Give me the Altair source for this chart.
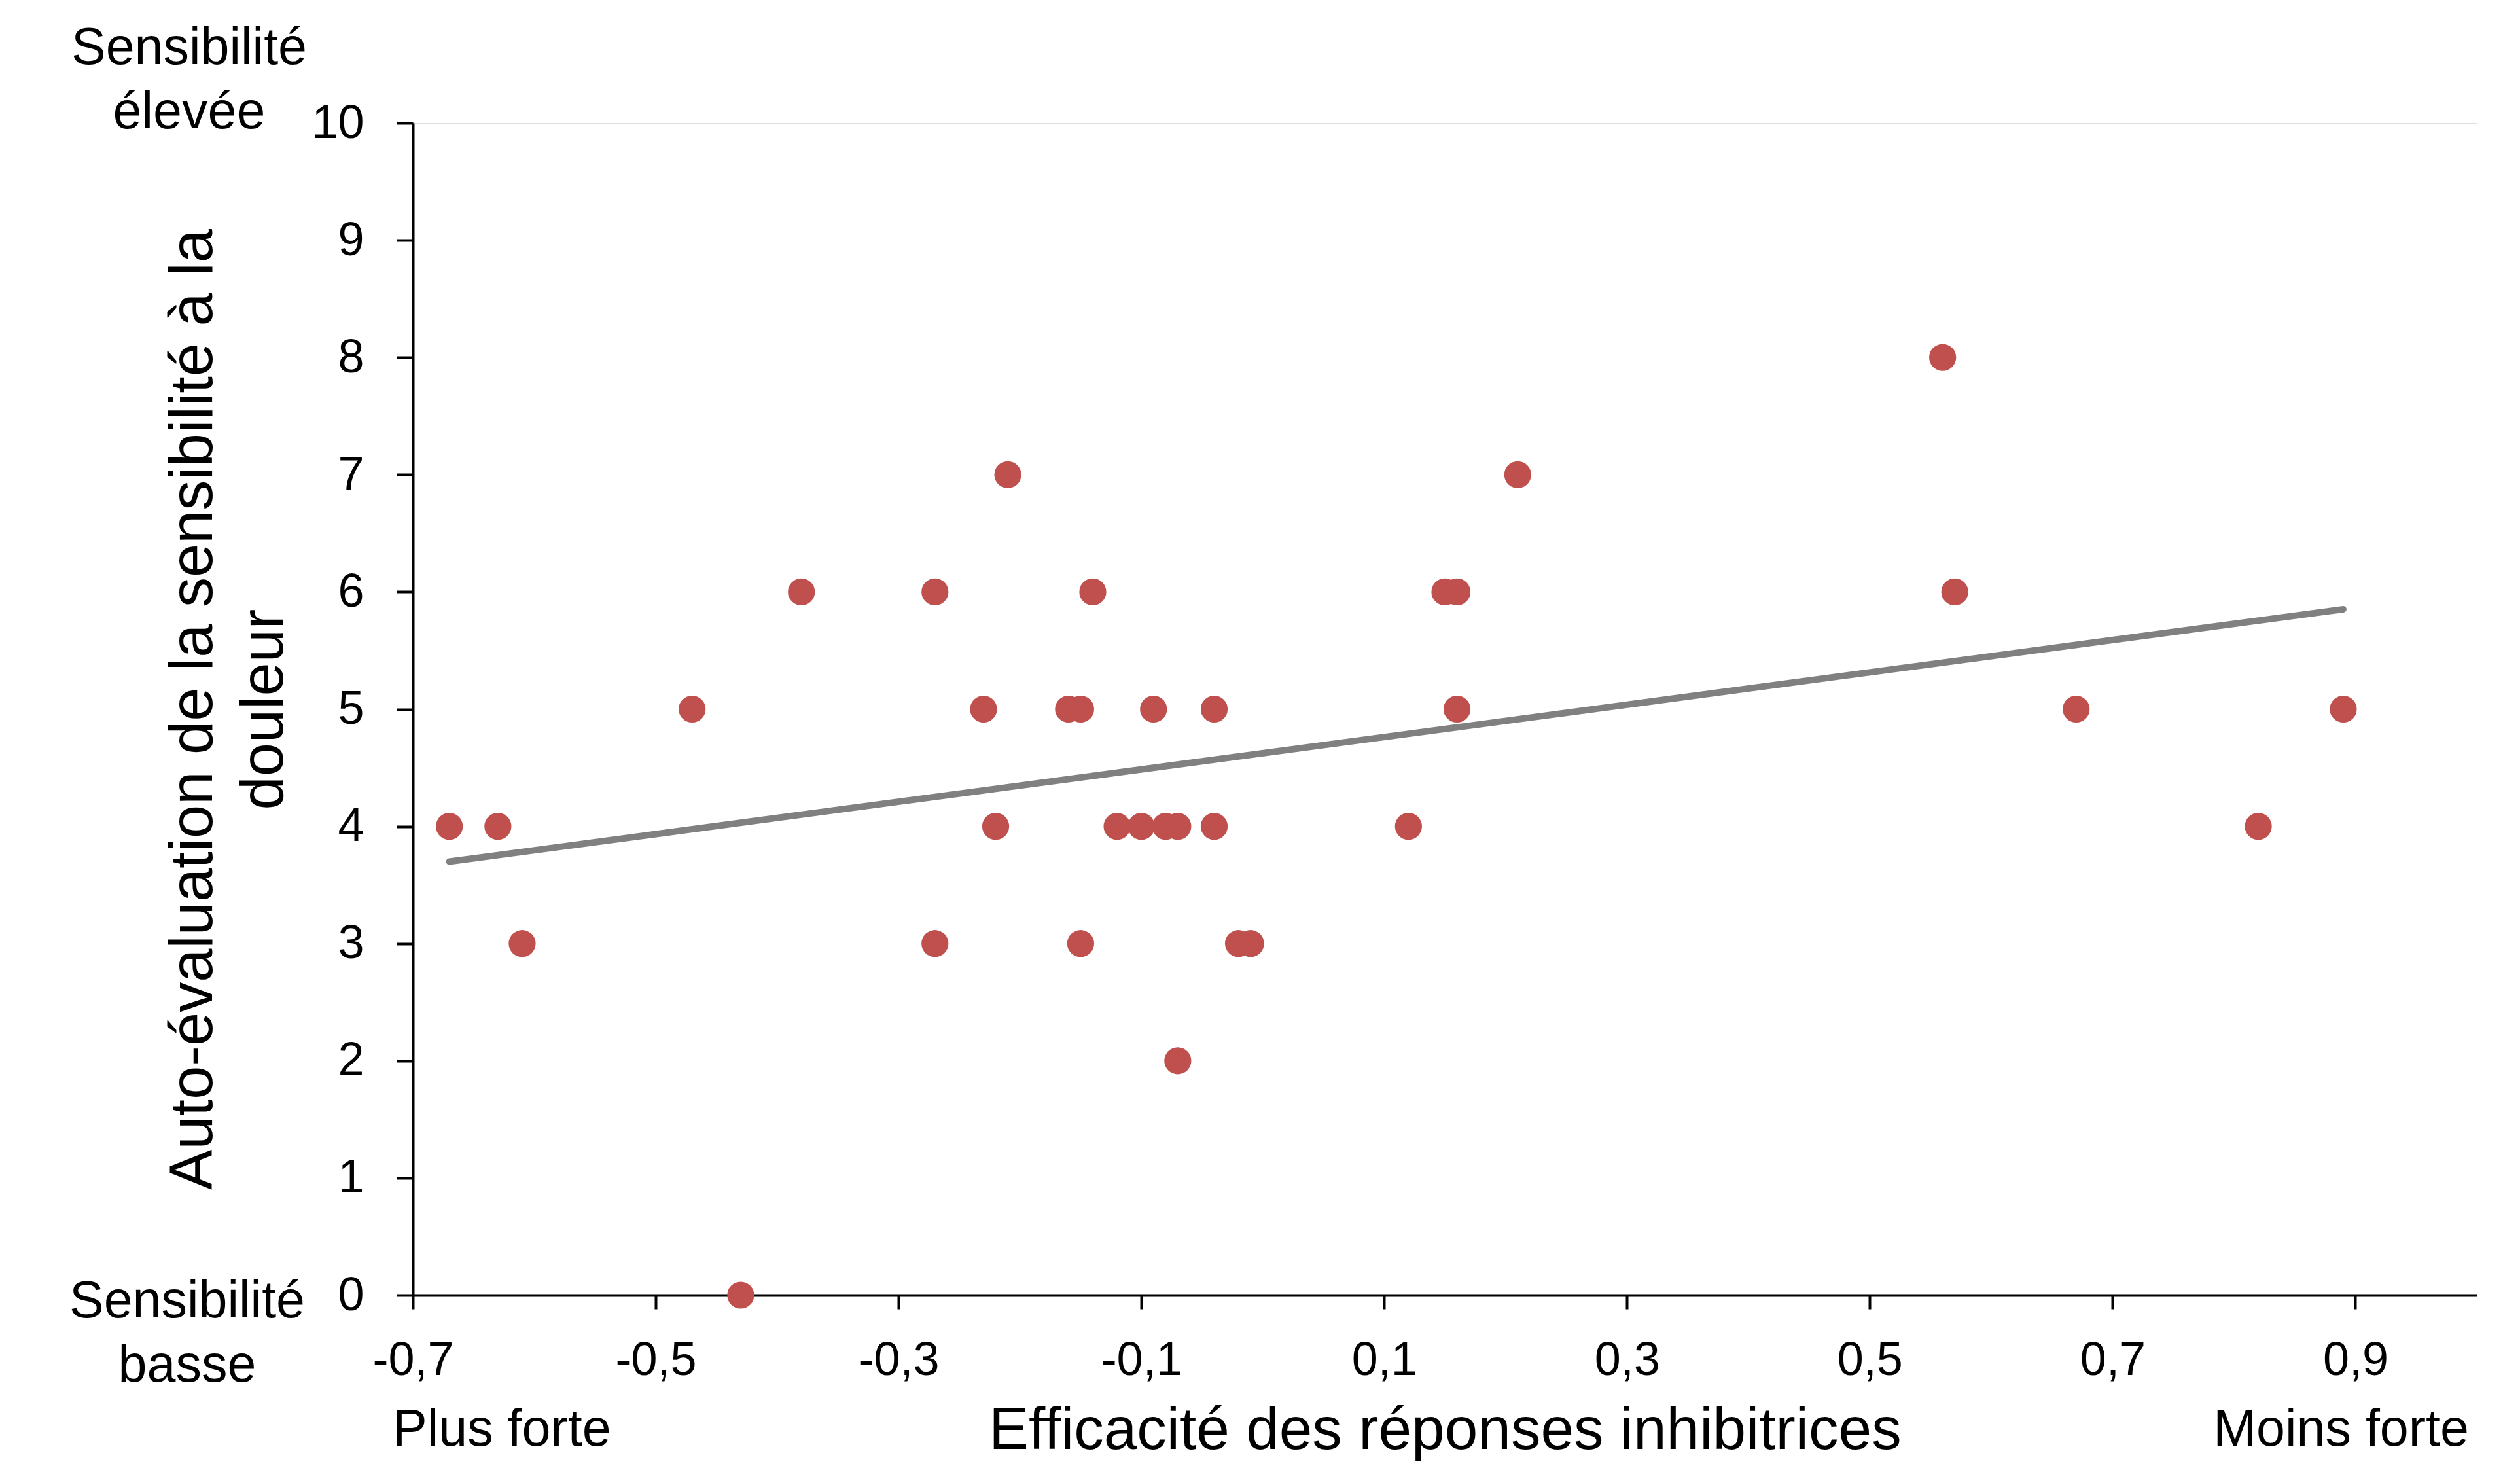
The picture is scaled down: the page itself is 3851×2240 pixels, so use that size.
import altair as alt
import pandas as pd

# Data
x_vals = [-0.67, -0.63, -0.61, -0.47, -0.43, -0.38, -0.27, -0.27, -0.23, -0.22,
          -0.21, -0.16, -0.15, -0.15, -0.14, -0.12, -0.10, -0.09, -0.08, -0.07,
          -0.07, -0.04, -0.04, -0.02, -0.01, 0.12, 0.15, 0.16, 0.16, 0.21,
          0.56, 0.57, 0.67, 0.82, 0.89]
y_vals = [4, 4, 3, 5, 0, 6, 6, 3, 5, 4,
          7, 5, 5, 3, 6, 4, 4, 5, 4, 4,
          2, 5, 4, 3, 3, 4, 6, 6, 5, 7,
          8, 6, 5, 4, 5]

x_ticks = [-0.7, -0.5, -0.3, -0.1, 0.1, 0.3, 0.5, 0.7, 0.9]
y_ticks = [0, 1, 2, 3, 4, 5, 6, 7, 8, 9, 10]
x_domain = [-0.7, 1.0]
y_domain = [0, 10]

x_title = "Efficacité des réponses inhibitrices"
y_title = ["Auto-évaluation de la sensibilité à la", "douleur"]

top_label = ["Sensibilité\nélevée"]
bottom_label = ["Sensibilité\nbasse"]
left_label = ["Plus forte"]
right_label = ["Moins forte"]

df = pd.DataFrame({"x": x_vals, "y": y_vals})

FONT = "Liberation Sans"
RED = "#C0504D"
GRAY = "#808080"

x_enc = alt.X(
    "x:Q",
    scale=alt.Scale(domain=x_domain, nice=False, zero=False),
    axis=alt.Axis(
        values=x_ticks,
        labelExpr="replace(replace(format(datum.value, '.1f'), '.', ','), '\u2212', '-')",
        title=x_title,
        grid=False,
        domainColor="black", domainWidth=4,
        tickColor="black", tickWidth=4, tickSize=21,
        labelPadding=43, labelFontSize=72, labelFont=FONT, labelColor="black",
        labelFlush=False, labelOverlap=False,
        titleFontSize=91, titleFont=FONT, titleColor="black",
        titleFontWeight="normal", titlePadding=27,
    ),
)
y_enc = alt.Y(
    "y:Q",
    scale=alt.Scale(domain=y_domain, nice=False, zero=False),
    axis=alt.Axis(
        values=y_ticks,
        format="d",
        title=y_title,
        grid=False,
        domainColor="black", domainWidth=4,
        tickColor="black", tickWidth=4, tickSize=25,
        labelPadding=50, labelFontSize=72, labelFont=FONT, labelColor="black",
        labelFlush=False, labelOverlap=False,
        titleFontSize=92, titleFont=FONT, titleColor="black",
        titleFontWeight="normal", titlePadding=25, titleLineHeight=108,
    ),
)

base = alt.Chart(df)

points = base.mark_point(filled=True, size=1700, color=RED, opacity=1, shape="circle").encode(
    x=x_enc, y=y_enc
)

trend = base.transform_regression("x", "y").mark_line(
    color=GRAY, strokeWidth=10, strokeCap="round"
).encode(x="x:Q", y="y:Q")

def annot(labels, xv, yv, align, dx, dy):
    d = pd.DataFrame({"t": labels, "x": [xv], "y": [yv]})
    return alt.Chart(d).mark_text(
        align=align, baseline="alphabetic", dx=dx, dy=dy,
        font=FONT, fontSize=79, color="black", lineBreak="\n", lineHeight=98,
    ).encode(x="x:Q", y="y:Q", text="t:N")

t_top = annot(top_label, x_domain[0], y_domain[1], "center", -342, -90)
t_bot = annot(bottom_label, x_domain[0], y_domain[0], "center", -345, 34)
t_left = annot(left_label, x_domain[0], y_domain[0], "left", -31, 230)
t_right = annot(right_label, x_domain[1], y_domain[0], "right", -12, 230)

chart = alt.layer(points, trend, t_top, t_bot, t_left, t_right).properties(
    width=3154,
    height=1791,
    autosize=alt.AutoSizeParams(type="none"),
    padding={"left": 623, "top": 180, "right": 58, "bottom": 253},
).configure_view(stroke=None).configure(background="white")

chart.save("out.html", embed_options={"renderer": "svg", "actions": False})
